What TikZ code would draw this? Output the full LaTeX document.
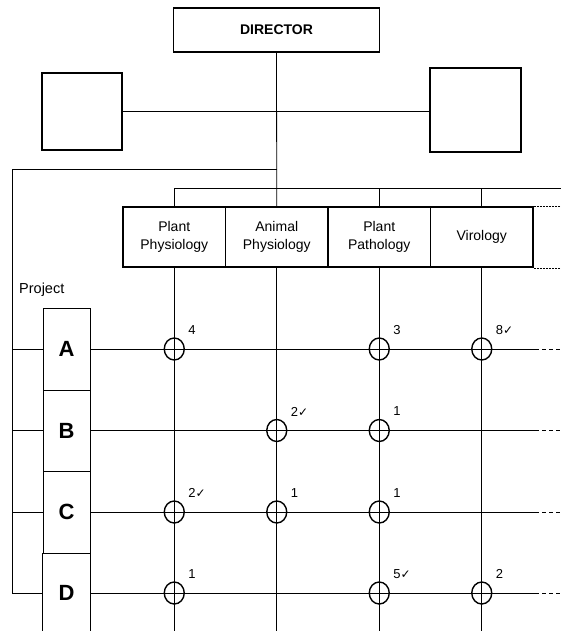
\documentclass[tikz,border=0pt]{standalone}
\usepackage{fontspec}
\usetikzlibrary{shapes.geometric}
\setmainfont{Liberation Sans}
\newfontfamily\symfont{DejaVu Sans}
\newcommand\chkmark{{\fontsize{12}{12}\symfont ✓}}
\begin{document}
\begin{tikzpicture}[x=1pt,y=-1pt,
  box/.style={draw, line width=1.4pt, inner sep=0pt},
  ln/.style={line width=0.8pt},
  dept/.style={draw, line width=1.6pt, inner sep=0pt, minimum width=102.5pt, minimum height=60pt, align=center, font=\fontsize{14}{18}\selectfont},
  proj/.style={draw, line width=0.9pt, minimum width=47pt, inner sep=0pt, font=\fontsize{22}{22}\selectfont\bfseries},
  ring/.style={ellipse, draw, line width=1.4pt, minimum width=20pt, minimum height=22pt, inner sep=0pt},
  num/.style={anchor=west, inner sep=0pt, font=\fontsize{13}{13}\selectfont}
]
\useasboundingbox (0,0) rectangle (561,631);
\coordinate (pend) at (561,0);
\coordinate (dend) at (535,0);
\coordinate (bottom) at (0,631);
\coordinate (lc) at (12,169);
\coordinate (busend) at (561,188);

% top
\node[box, minimum width=206pt, minimum height=44pt, font=\fontsize{14}{14}\selectfont\bfseries] (dir) at (276.5,30) {DIRECTOR};
\node[box, minimum width=80pt, minimum height=77pt] (lb) at (82,111.5) {};
\node[box, minimum width=91pt, minimum height=84pt] (rb) at (475.5,110) {};

% departments
\node[dept] (d1) at (174.25,237) {Plant\\Physiology};
\node[dept] (d2) at (276.75,237) {Animal\\Physiology};
\node[dept] (d3) at (379.25,237) {Plant\\Pathology};
\node[dept] (d4) at (481.75,237) {Virology};

% projects
\node[anchor=west, inner sep=0pt, font=\fontsize{14.5}{14.5}\selectfont] (plbl) at (19,290) {Project};
\node[proj, minimum height=82pt] (pa) at (66.5,349) {A};
\node[proj, minimum height=81pt] (pb) at (66.5,430.5) {B};
\node[proj, minimum height=82pt] (pc) at (66.5,512) {C};
\node[inner sep=0pt, minimum width=47pt, minimum height=80pt, font=\fontsize{22}{22}\selectfont\bfseries] (pd) at (66.5,593) {D};
\draw[line width=0.9pt] (pd.south west) -- (pd.north west);
\draw[line width=0.9pt] (pd.south east) -- (pd.north east);
\draw[line width=1.5pt] (pc.south west) -- (pc.south east);

% connectors at top
\draw[ln] (lb.east) -- (lb.east -| rb.west);
\draw[ln] (dir.south) -- (d2.north);
\draw[ln] (d1.north) |- (busend);
\draw[ln] (d3.north) -- (d3.north |- busend);
\draw[ln] (d4.north) -- (d4.north |- busend);
\draw[ln] (dir.south |- lc) -- (lc) -- (lc |- pd.west) -- (pd.west);

% dotted continuation of department row
\draw[densely dotted, line width=0.5pt] (d4.north east) -- (d4.north east -| pend);
\draw[densely dotted, line width=0.5pt] (d4.south east) -- (d4.south east -| pend);

% columns
\foreach \d in {d1,d2,d3,d4}{
  \draw[ln] (\d.south) -- (\d.south |- bottom);
}

% rows
\foreach \p in {pa,pb,pc}{
  \draw[ln] (lc |- \p.west) -- (\p.west);
}
\foreach \p in {pa,pb,pc,pd}{
  \draw[ln] (\p.east) -- (\p.east -| dend);
  \draw[ln, dash pattern=on 4pt off 3pt] (\p.east -| dend) -- (\p.east -| pend);
}

% circles and numbers
\node[ring] (a1) at (d1 |- pa) {};
\node[ring] (a3) at (d3 |- pa) {};
\node[ring] (a4) at (d4 |- pa) {};
\node[ring] (b2) at (d2 |- pb) {};
\node[ring] (b3) at (d3 |- pb) {};
\node[ring] (c1) at (d1 |- pc) {};
\node[ring] (c2) at (d2 |- pc) {};
\node[ring] (c3) at (d3 |- pc) {};
\node[ring] (e1) at (d1 |- pd) {};
\node[ring] (e3) at (d3 |- pd) {};
\node[ring] (e4) at (d4 |- pd) {};

\node[num] (la1) at ([shift={(14,-19)}]a1.center) {4};
\node[num] (la3) at ([shift={(14,-19)}]a3.center) {3};
\node[num] (la4) at ([shift={(14,-19)}]a4.center) {8\chkmark};
\node[num] (lb2) at ([shift={(14,-19)}]b2.center) {2\chkmark};
\node[num] (lb3) at ([shift={(14,-19)}]b3.center) {1};
\node[num] (lc1) at ([shift={(14,-19)}]c1.center) {2\chkmark};
\node[num] (lc2) at ([shift={(14,-19)}]c2.center) {1};
\node[num] (lc3) at ([shift={(14,-19)}]c3.center) {1};
\node[num] (le1) at ([shift={(14,-19)}]e1.center) {1};
\node[num] (le3) at ([shift={(14,-19)}]e3.center) {5\chkmark};
\node[num] (le4) at ([shift={(14,-19)}]e4.center) {2};
\end{tikzpicture}
\end{document}
